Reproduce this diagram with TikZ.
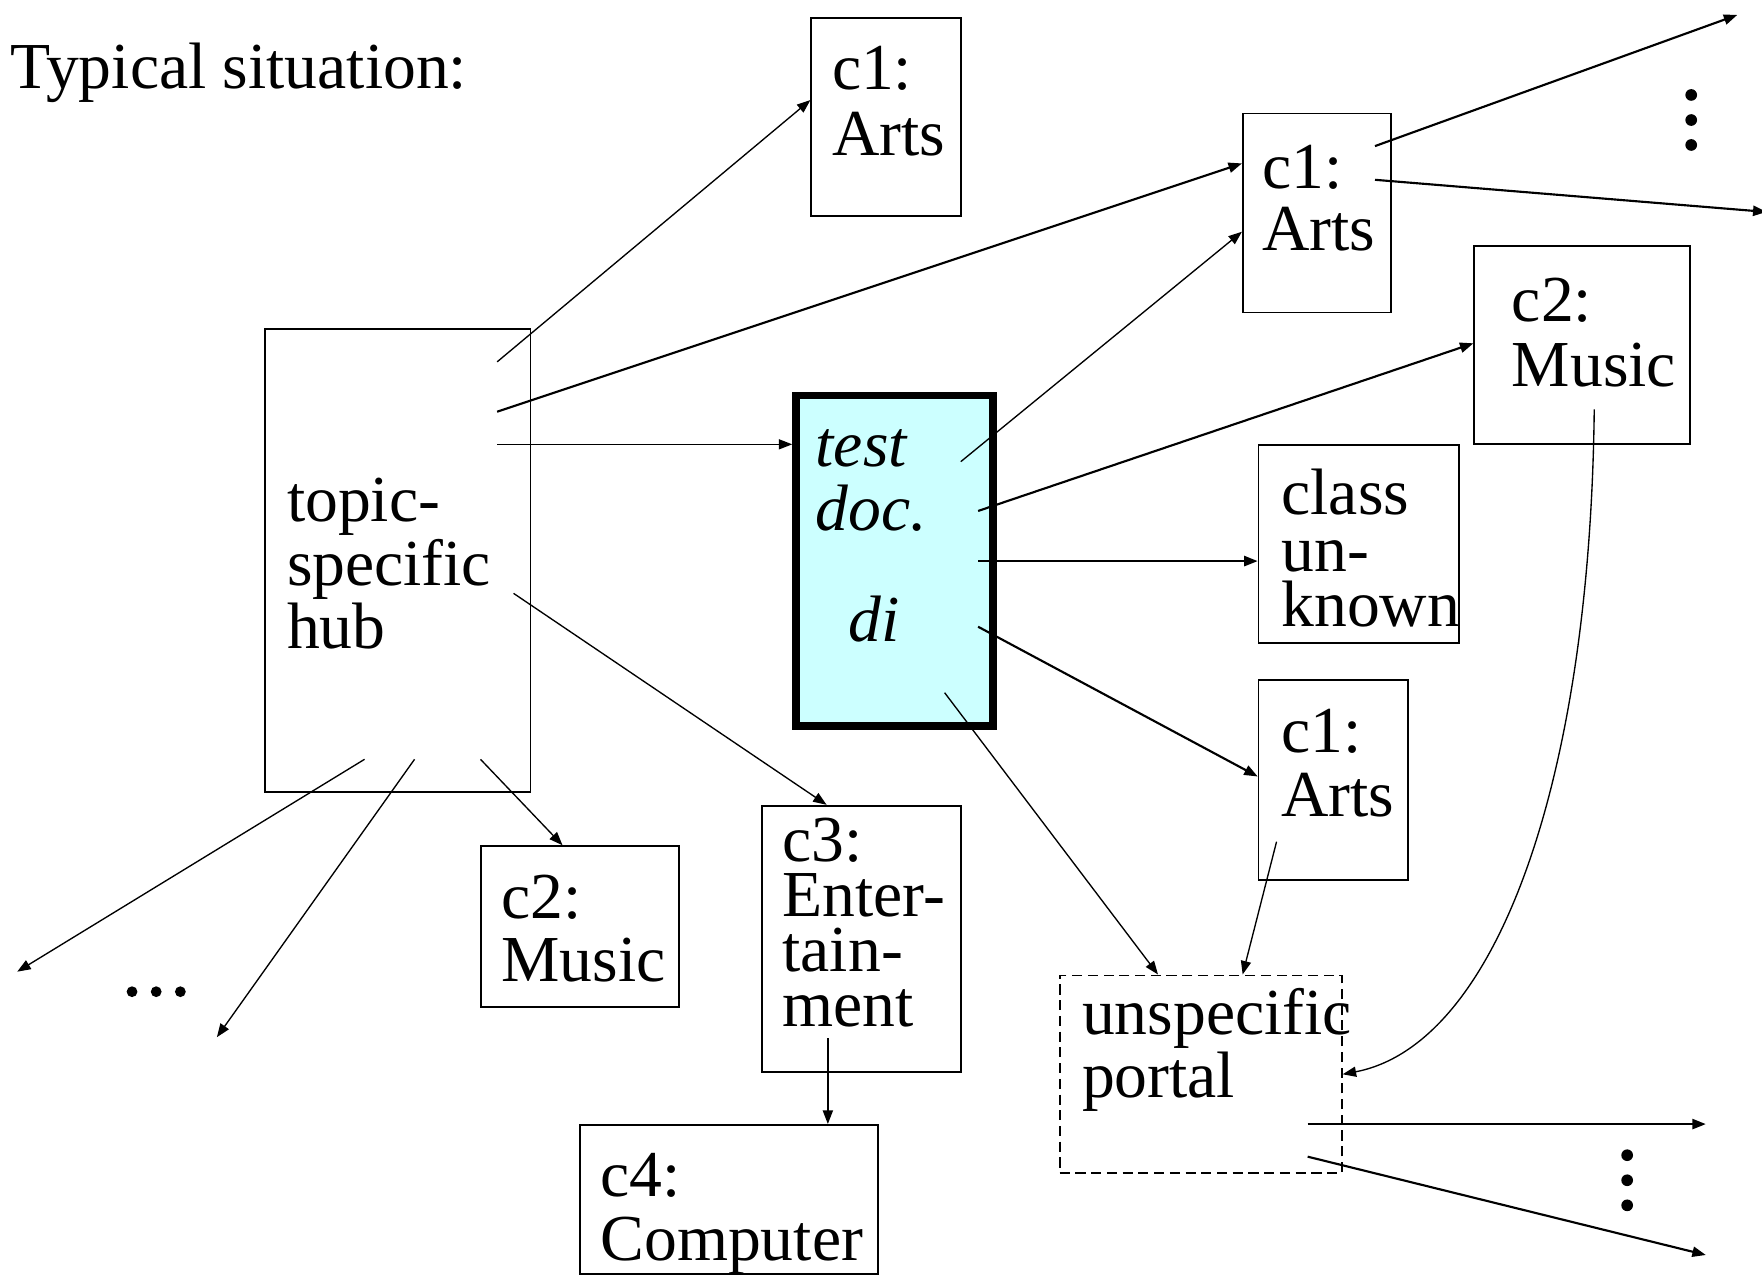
\documentclass[tikz,border=0pt]{standalone}
\usepackage{fontspec}
\setmainfont{Liberation Serif}
\usetikzlibrary{arrows.meta,fit}
\begin{document}
\begin{tikzpicture}[x=0.5pt,y=-0.5pt,
  box/.style={draw, line width=0.8pt, inner sep=0pt},
  dashbox/.style={draw, line width=0.8pt, inner sep=0pt, dash pattern=on 4.5pt off 2.5pt},
  docbox/.style={draw, line width=3.5pt, inner sep=0pt, fill=docfill},
  lbl/.style={anchor=base west, inner sep=0pt, font=\fontsize{29.2}{35}\selectfont},
  lbli/.style={anchor=base west, inner sep=0pt, font=\fontsize{29.2}{35}\selectfont\itshape},
  arr/.style={-{Triangle[length=6pt,width=4.5pt]}, line width=0.6pt},
  arrthick/.style={-{Triangle[length=6pt,width=4.5pt]}, line width=0.95pt}]
\definecolor{docfill}{HTML}{CCFFFF}
\useasboundingbox (0,0) rectangle (1568,1136);

% ---------- boxes ----------
\node[box, fit={(722,16) (855,192)}] (c1top) {};
\node[box, fit={(1106,101) (1238,278)}] (c1mid) {};
\node[box, fit={(1312,219) (1504,395)}] (c2r) {};
\node[box, fit={(236,293) (472,705)}] (hub) {};
\node[docbox, fit={(708.5,352) (883.5,646)}] (doc) {};
\node[box, fit={(1120,396) (1298,572)}] (cu) {};
\node[box, fit={(1120,605) (1253,783)}] (c1low) {};
\node[box, fit={(678,717) (855,954)}] (c3) {};
\node[box, fit={(428,753) (604,896)}] (c2low) {};
\node[box, fit={(516,1001) (781,1134)}] (c4) {};
\node[dashbox, fit={(943,868) (1194,1044)}] (portal) {};

% ---------- texts ----------
\node[lbl] (title) at (9,78.6) {Typical situation:};
\node[lbl] (c1topA) at (740,79.5) {c1:};
\node[lbl] (c1topB) at (740,138) {Arts};
\node[lbl] (c1midA) at (1123,167.6) {c1:};
\node[lbl] (c1midB) at (1123,222.5) {Arts};
\node[lbl] (c2rA) at (1345,286) {c2:};
\node[lbl] (c2rB) at (1345,344) {Music};
\node[lbl] (hubA) at (255,464) {topic-};
\node[lbl] (hubB) at (255,520.6) {specific};
\node[lbl] (hubC) at (255,577) {hub};
\node[lbli] (docA) at (725.5,415) {test};
\node[lbli] (docB) at (725.5,471.7) {doc.};
\node[lbli] (docC) at (755,571) {di};
\node[lbl] (cuA) at (1140,458) {class};
\node[lbl] (cuB) at (1140,508.7) {un-};
\node[lbl] (cuC) at (1140,557.7) {known};
\node[lbl] (c1lowA) at (1140,670) {c1:};
\node[lbl] (c1lowB) at (1140,726.8) {Arts};
\node[lbl] (c3A) at (696,766.8) {c3:};
\node[lbl] (c3B) at (696,815.7) {Enter-};
\node[lbl] (c3C) at (696,864.7) {tain-};
\node[lbl] (c3D) at (696,913.7) {ment};
\node[lbl] (c2lowA) at (446,817) {c2:};
\node[lbl] (c2lowB) at (446,873.6) {Music};
\node[lbl] (c4A) at (534,1065) {c4:};
\node[lbl] (c4B) at (534,1121.3) {Computer};
\node[lbl] (portalA) at (962.5,921) {unspecific};
\node[lbl] (portalB) at (962.5,977) {portal};

% ---------- connector end points ----------
\coordinate (h1) at (442.4,322);
\coordinate (h2) at (442.4,366.4);
\coordinate (h3) at (442.4,395.4);
\coordinate (h4) at (457,528);
\coordinate (h5) at (324.4,675.7);
\coordinate (h6) at (368.9,675.7);
\coordinate (h7) at (427.6,675.7);
\coordinate (f5) at (15.3,864.7);
\coordinate (f6) at (193,923);
\coordinate (d1) at (855,410.8);
\coordinate (d2) at (870.4,454.7);
\coordinate (d3) at (870.4,499.3);
\coordinate (d4) at (870.4,557.7);
\coordinate (d5) at (840.6,616.4);
\coordinate (m1) at (1223.6,130);
\coordinate (m2) at (1223.6,160);
\coordinate (fm1) at (1546,13.3);
\coordinate (fm2) at (1572,188.6);
\coordinate (l1) at (1136,749);
\coordinate (r1) at (1418.7,364.3);
\coordinate (e1) at (736.7,924);
\coordinate (p1) at (1163.7,1000.3);
\coordinate (p2) at (1163.7,1029.3);
\coordinate (fp1) at (1518,1000.3);
\coordinate (fp2) at (1518,1116.8);
% levels / columns where connectors meet the boxes
\coordinate (y1) at (0,89);
\coordinate (y2) at (0,145.4);
\coordinate (y3) at (0,206.2);
\coordinate (y4) at (0,305.5);
\coordinate (y5) at (0,691);
\coordinate (y6) at (0,956);
\coordinate (x1) at (735.6,0);
\coordinate (x2) at (500.6,0);
\coordinate (x3) at (1030.5,0);
\coordinate (x4) at (1105.8,0);

% ---------- connectors ----------
\draw[arr] (h1) -- (c1top.west |- y1);
\draw[arrthick] (h2) -- (c1mid.west |- y2);
\draw[arr] (h3) -- (doc.west |- h3);
\draw[arr] (h4) -- (x1 |- c3.north);
\draw[arr] (h5) -- (f5);
\draw[arr] (h6) -- (f6);
\draw[arr] (h7) -- (x2 |- c2low.north);
\draw[arr] (d1) -- (c1mid.west |- y3);
\draw[arrthick] (d2) -- (c2r.west |- y4);
\draw[arrthick] (d3) -- (cu.west |- d3);
\draw[arrthick] (d4) -- (c1low.west |- y5);
\draw[arr] (d5) -- (x3 |- portal.north);
\draw[arr] (l1) -- (x4 |- portal.north);
\draw[arr] (r1) .. controls (1415,700) and (1330,930) .. (portal.east |- y6);
\draw[arr] (e1) -- (e1 |- c4.north);
\draw[arrthick] (m1) -- (fm1);
\draw[arrthick] (m2) -- (fm2);
\draw[arrthick] (p1) -- (fp1);
\draw[arrthick] (p2) -- (fp2);

% ---------- ellipsis dots ----------
\fill (1505,84.5) circle[radius=2.6pt] (1505,106.8) circle[radius=2.6pt] (1505,129) circle[radius=2.6pt];
\fill (1448,1028) circle[radius=2.6pt] (1448,1050.3) circle[radius=2.6pt] (1448,1072.6) circle[radius=2.6pt];
\fill (117.5,882.5) circle[radius=2.4pt] (139,882.5) circle[radius=2.4pt] (160.5,882.5) circle[radius=2.4pt];
\end{tikzpicture}
\end{document}
